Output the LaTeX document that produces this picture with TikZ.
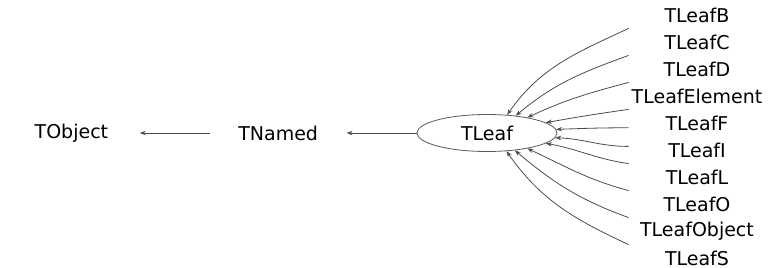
\documentclass[tikz,border=0pt]{standalone}
\usepackage{fontspec}
\setmainfont{DejaVu Sans}
\usetikzlibrary{arrows.meta, shapes.geometric, positioning}

\tikzset{
  cls/.style={minimum width=68pt, minimum height=13pt, inner sep=0pt,
    font=\fontsize{9.5}{11}\selectfont},
  base/.style={cls, ellipse, draw=black!65, line width=0.4pt,
    minimum width=70pt, minimum height=18.5pt},
  inh/.style={draw=black!70, line width=0.4pt,
    -{Stealth[length=3pt,width=2.2pt]}},
}

\begin{document}
\begin{tikzpicture}[x=0.5pt, y=0.5pt]
    \useasboundingbox (0,0) rectangle (768,268);

    \node[base] (tleaf) at (487,135) {TLeaf};
    \node[cls, left=35pt of tleaf] (tnamed) {TNamed};
    \node[cls, left=35pt of tnamed] (tobject) {TObject};

    % derived classes, stacked on the right
    \node[cls] (leafB) at (697,253) {TLeafB};
    \node[cls, below=0.1pt of leafB] (leafC) {TLeafC};
    \node[cls, below=0.1pt of leafC] (leafD) {TLeafD};
    \node[cls, below=0.1pt of leafD] (leafElem) {TLeafElement};
    \node[cls, below=0.1pt of leafElem] (leafF) {TLeafF};
    \node[cls, below=0.1pt of leafF] (leafI) {TLeafI};
    \node[cls, below=0.1pt of leafI] (leafL) {TLeafL};
    \node[cls, below=0.1pt of leafL] (leafO) {TLeafO};
    \node[cls, below=0.1pt of leafO] (leafObj) {TLeafObject};
    \node[cls, below=0.1pt of leafObj] (leafS) {TLeafS};

    \draw[inh] (tnamed) -- (tobject);
    \draw[inh] (tleaf) -- (tnamed);

    \draw[inh] (leafB.south west) to[out=205, in=55] (tleaf.42);
    \draw[inh] (leafC.south west) to[out=200, in=40] (tleaf.31);
    \draw[inh] (leafD.south west) to[out=195, in=25] (tleaf.21);
    \draw[inh] (leafElem.south west) to[out=188, in=10] (tleaf.10);
    \draw[inh] (leafF.184) to[out=180, in=2] (tleaf.3);
    \draw[inh] (leafI.177) to[out=180, in=-2] (tleaf.-4);
    \draw[inh] (leafL.north west) to[out=172, in=-10] (tleaf.-10);
    \draw[inh] (leafO.north west) to[out=165, in=-25] (tleaf.-21);
    \draw[inh] (leafObj.north west) to[out=160, in=-40] (tleaf.-32);
    \draw[inh] (leafS.north west) to[out=155, in=-55] (tleaf.-43);
\end{tikzpicture}
\end{document}
